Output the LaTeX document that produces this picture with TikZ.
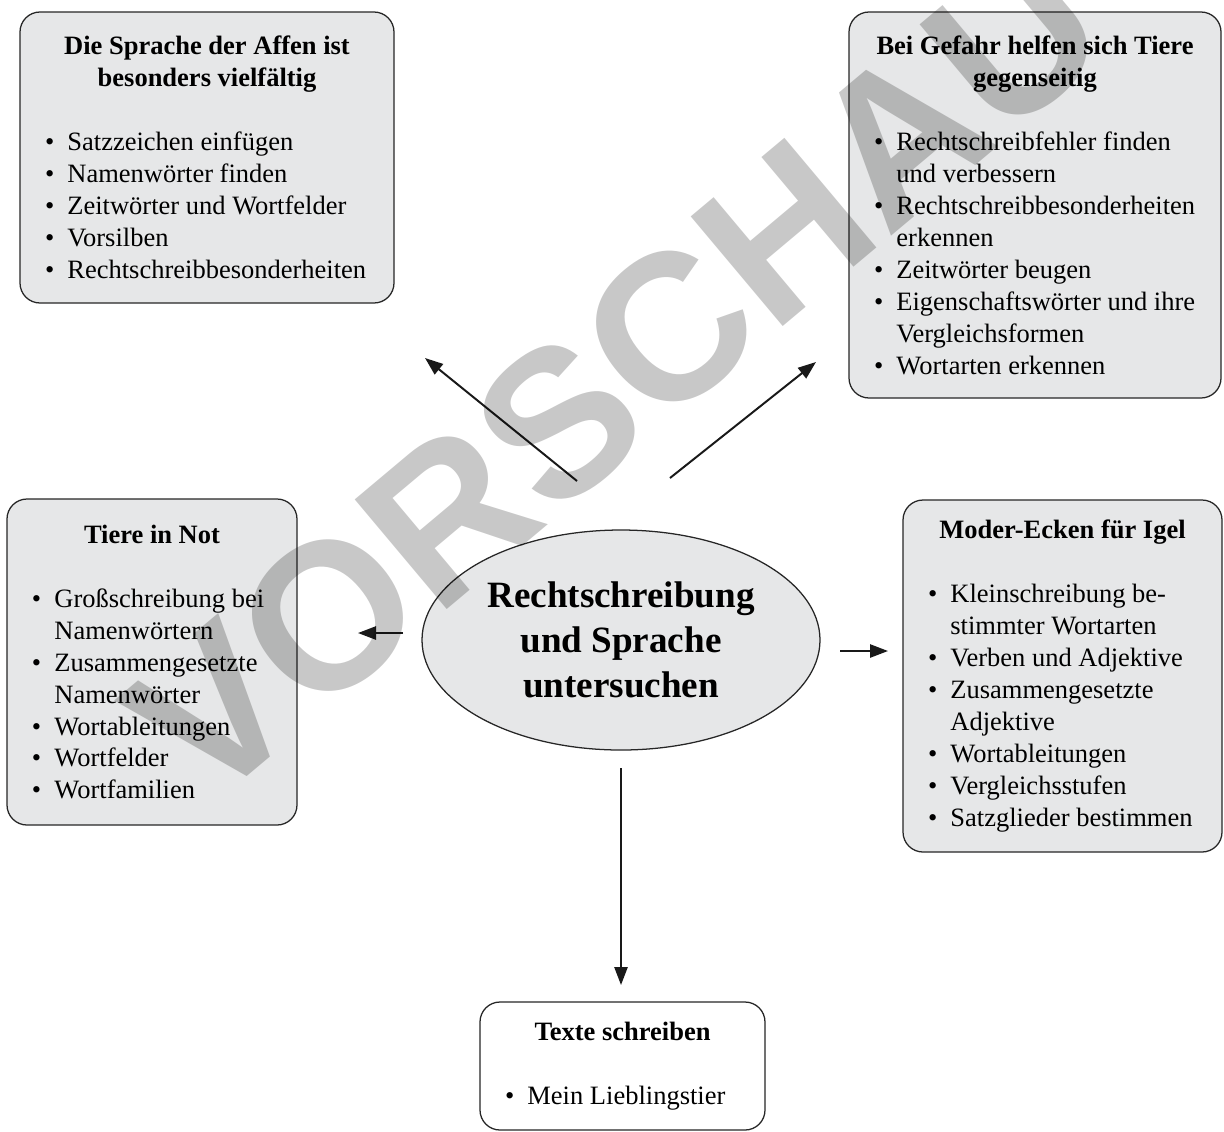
\documentclass[tikz,border=0pt]{standalone}
\usepackage{fontspec}
\setmainfont{Liberation Serif}
\newfontfamily\markfont{Liberation Sans}
\usetikzlibrary{shapes.geometric,arrows.meta}

\definecolor{boxgray}{RGB}{230,231,232}
\definecolor{markgray}{RGB}{200,200,200}

\newcommand\boxtitle[1]{{\centering\leftskip=-0.5cm plus 1fil\rightskip=-0.5cm plus 1fil\bfseries #1\par}\vspace{\baselineskip}}
\newcommand\boxitem[1]{\par\noindent\hangindent=0.56cm\hangafter=1\rightskip=-0.8cm plus 1fil\makebox[0.56cm][l]{\textbullet}#1}
\hyphenpenalty=10000

\begin{document}
\begin{tikzpicture}
\tikzstyle{box_style} = [draw=black!85, line width=0.9pt, fill=boxgray, rounded corners=0.5cm, align=flush left, inner xsep=0.625cm, inner ysep=0pt, font=\fontsize{18.85pt}{22.76pt}\selectfont]
\tikzstyle{oval_style} = [ellipse, draw=black!85, line width=0.9pt, fill=boxgray, inner sep=0pt, minimum width=9.95cm, minimum height=5.5cm, align=center, font=\bfseries\fontsize{26.4pt}{32pt}\selectfont]
\tikzstyle{arrow_style} = [black!90, line width=1.4pt, -{Triangle[length=0.45cm, width=0.33cm]}]
\tikzstyle{mark_style} = [rotate=40, inner sep=0pt, text=markgray, font=\markfont\bfseries\fontsize{148pt}{148pt}\selectfont]

    \useasboundingbox (0,0) rectangle (30.6,-28.275);

    \node[box_style, text width=8.1cm, minimum width=9.35cm, minimum height=7.275cm] (affen) at (5.175,-3.9375) {%
        \boxtitle{Die Sprache der Affen ist\\besonders vielfältig}
        \boxitem{Satzzeichen einfügen}
        \boxitem{Namenwörter finden}
        \boxitem{Zeitwörter und Wortfelder}
        \boxitem{Vorsilben}
        \boxitem{Rechtschreibbesonderheiten}};
    \node[box_style, text width=8.05cm, minimum width=9.3cm, minimum height=9.65cm] (gefahr) at (25.875,-5.125) {%
        \boxtitle{Bei Gefahr helfen sich Tiere\\gegenseitig}
        \boxitem{Rechtschreibfehler finden\newline und verbessern}
        \boxitem{Rechtschreibbesonderheiten\newline erkennen}
        \boxitem{Zeitwörter beugen}
        \boxitem{Eigenschaftswörter und ihre\newline Vergleichsformen}
        \boxitem{Wortarten erkennen}};
    \node[box_style, text width=6cm, minimum width=7.25cm, minimum height=8.15cm] (not) at (3.8,-16.55) {%
        \boxtitle{Tiere in Not}
        \boxitem{Großschreibung bei\newline Namenwörtern}
        \boxitem{Zusammengesetzte\newline Namenwörter}
        \boxitem{Wortableitungen}
        \boxitem{Wortfelder}
        \boxitem{Wortfamilien}};
    \node[box_style, text width=6.725cm, minimum width=7.975cm, minimum height=8.8cm] (igel) at (26.5625,-16.9) {%
        \boxtitle{Moder-Ecken für Igel}
        \boxitem{Kleinschreibung be-\newline stimmter Wortarten}
        \boxitem{Verben und Adjektive}
        \boxitem{Zusammengesetzte\newline Adjektive}
        \boxitem{Wortableitungen}
        \boxitem{Vergleichsstufen}
        \boxitem{Satzglieder bestimmen}};
    \node[box_style, fill=white, text width=5.875cm, minimum width=7.125cm, minimum height=3.2cm] (texte) at (15.5625,-26.65) {%
        \boxtitle{Texte schreiben}
        \boxitem{Mein Lieblingstier}};

    \node[oval_style] (thema) at (15.525,-16) {Rechtschreibung\\und Sprache\\untersuchen};

    \coordinate (a1_from) at (14.425,-12.025);
    \coordinate (a1_to) at (10.625,-8.95);
    \coordinate (a2_from) at (16.75,-11.95);
    \coordinate (a2_to) at (20.4,-9.05);
    \coordinate (a3_from) at (10.075,-15.825);
    \coordinate (a3_to) at (8.95,-15.825);
    \coordinate (a4_from) at (21,-16.275);
    \coordinate (a4_to) at (22.2,-16.275);
    \coordinate (a5_from) at (15.525,-19.2);
    \coordinate (a5_to) at (15.525,-24.625);

    \draw[arrow_style] (a1_from) -- (a1_to);
    \draw[arrow_style] (a2_from) -- (a2_to);
    \draw[arrow_style] (a3_from) -- (a3_to);
    \draw[arrow_style] (a4_from) -- (a4_to);
    \draw[arrow_style] (a5_from) -- (a5_to);

    \begin{scope}[blend mode=multiply]
    \node[mark_style] (vorschau) at (15.4,-9.35) {VORSCHAU};
    \end{scope}
\end{tikzpicture}
\end{document}
